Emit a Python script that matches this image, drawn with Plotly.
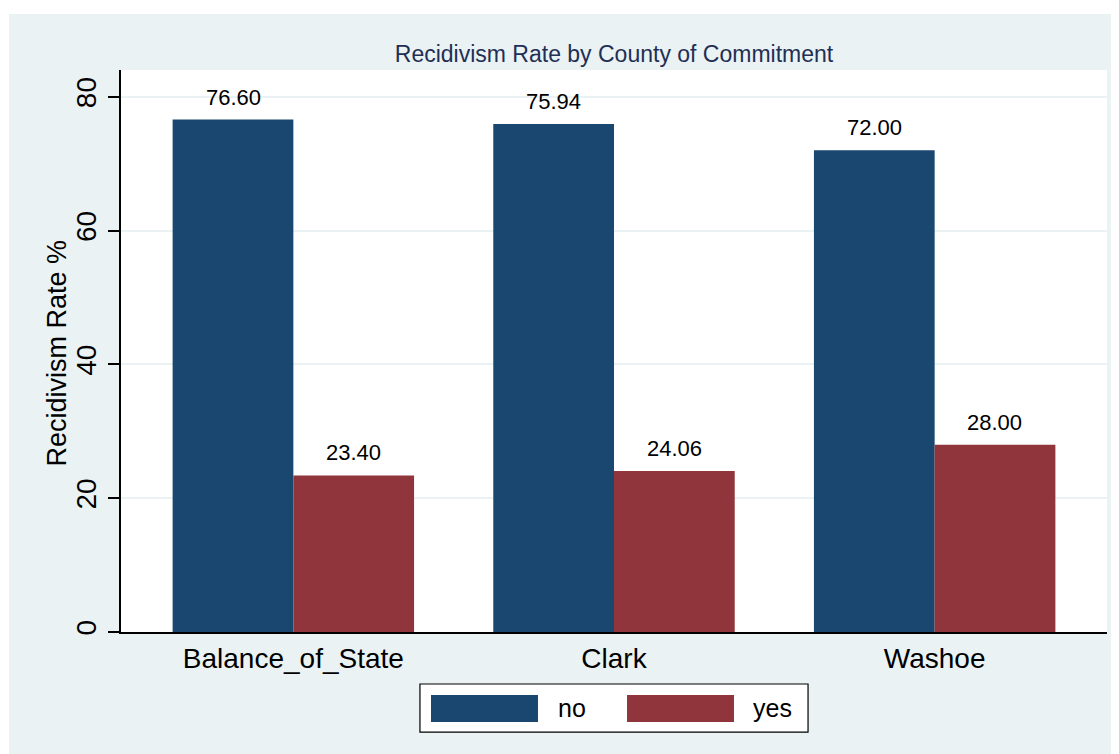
import plotly.graph_objects as go

counties = ["Balance_of_State", "Clark", "Washoe"]
no_vals = [76.60, 75.94, 72.00]
yes_vals = [23.40, 24.06, 28.00]
series_names = ["no", "yes"]
series_colors = ["#1a476f", "#90353b"]
y_ticks = [0, 20, 40, 60, 80]

BG = "#eaf2f3"
FONT = "Liberation Sans, Arial, sans-serif"

fig = go.Figure()
for name, vals, col in zip(series_names, [no_vals, yes_vals], series_colors):
    fig.add_trace(go.Bar(x=counties, y=vals, name=name, marker_color=col,
                         marker_line_width=0, showlegend=False))

# value labels above bars
bar_px = 120.5
for i, vals in enumerate([no_vals, yes_vals]):
    shift = (-0.5 if i == 0 else 0.5) * bar_px
    for c, v in zip(counties, vals):
        fig.add_annotation(x=c, y=v, text=f"{v:.2f}", showarrow=False,
                           xshift=shift, yshift=8, yanchor="bottom",
                           font=dict(family=FONT, size=22, color="black"))

# y-axis title
fig.add_annotation(xref="paper", yref="paper", x=-0.0649, y=0.4956, text="Recidivism Rate %",
                   textangle=-90, showarrow=False, xanchor="center", yanchor="middle",
                   font=dict(family=FONT, size=27, color="black"))

# manual legend (large swatches like the reference)
lx0, lx1, ly0, ly1 = 0.3032, 0.6968, -0.0925, -0.178
fig.add_shape(type="rect", xref="paper", yref="paper", x0=lx0, x1=lx1, y0=ly0, y1=ly1,
              fillcolor="white", line=dict(color="black", width=1.2))
sw_x = [0.3144, 0.5132]
txt_x = [0.4412, 0.639]
for name, col, sx, tx in zip(series_names, series_colors, sw_x, txt_x):
    fig.add_shape(type="rect", xref="paper", yref="paper", x0=sx, x1=sx + 0.1085,
                  y0=-0.1121, y1=-0.1601, fillcolor=col, line_width=0)
    fig.add_annotation(xref="paper", yref="paper", x=tx, y=-0.1361, text=name,
                       showarrow=False, xanchor="left", yanchor="middle",
                       font=dict(family=FONT, size=25, color="black"))

# thin white strips (top and left) of the outer frame
fig.add_shape(type="rect", xref="paper", yref="paper", x0=-0.2, x1=1.2, y0=1.0996, y1=1.2,
              fillcolor="white", line_width=0, layer="above")
fig.add_shape(type="rect", xref="paper", yref="paper", x0=-0.2, x1=-0.1136, y0=-0.3, y1=1.2,
              fillcolor="white", line_width=0, layer="above")

fig.update_layout(
    width=1111, height=746,
    margin=dict(l=113, r=12, t=62, b=122),
    paper_bgcolor=BG, plot_bgcolor="white",
    barmode="group", bargap=0.247, bargroupgap=0,
    showlegend=False,
    font=dict(family=FONT, color="black"),
    title=dict(text="Recidivism Rate by County of Commitment", x=(113 + 493) / 1111,
               xanchor="center", y=1 - 46 / 746, yanchor="middle", yref="container",
               font=dict(family=FONT, size=23, color="#1f2f55")),
)
fig.update_xaxes(type="category", range=[-0.5375, 2.5375], showline=True, linecolor="black",
                 linewidth=1.5, ticks="", showgrid=False, zeroline=False,
                 tickfont=dict(family=FONT, size=28), ticklabelstandoff=1)
fig.update_yaxes(range=[0, 84], tickvals=y_ticks, ticktext=[str(t) for t in y_ticks],
                 showline=True, linecolor="black", linewidth=1.5, ticks="outside", ticklen=11,
                 tickwidth=1.5, tickcolor="black", tickangle=-90,
                 showgrid=True, gridcolor=BG, gridwidth=2, zeroline=False,
                 tickfont=dict(family=FONT, size=28), ticklabelstandoff=1)

fig.write_html("out.html")
